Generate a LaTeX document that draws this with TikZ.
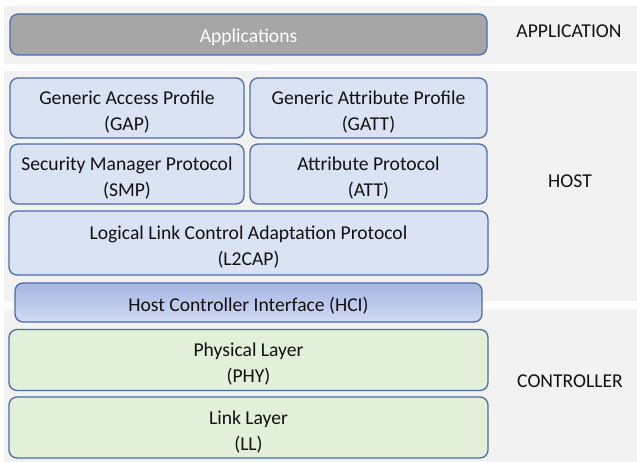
\documentclass[tikz,border=0pt]{standalone}
\usepackage{fontspec}
\setmainfont{Carlito}
\definecolor{panel}{HTML}{F2F2F2}
\definecolor{edge}{HTML}{4A6CAC}
\definecolor{hostfill}{HTML}{DAE3F3}
\definecolor{ctrlfill}{HTML}{E2F0DA}
\definecolor{appfill}{HTML}{A6A6A6}
\definecolor{hcitop}{HTML}{A7B7E2}
\definecolor{hcibot}{HTML}{D2DAF3}
\definecolor{ink}{HTML}{111111}
\tikzset{
  layer/.style={draw=edge, line width=1.3pt, rounded corners=8pt, align=center,
    inner sep=0pt, text=ink, font=\fontsize{19.6}{26}\selectfont,
    execute at begin node={\rule{0pt}{20pt}}},
  pair/.style={execute at begin node={\rule{0pt}{48pt}}},
  hostbox/.style={layer, fill=hostfill},
  ctrlbox/.style={layer, fill=ctrlfill},
  appbox/.style={layer, fill=appfill, text=white},
  hcibox/.style={layer, top color=hcitop, bottom color=hcibot},
  tier/.style={text=ink, font=\fontsize{19.6}{25}\selectfont, inner sep=0pt},
  band/.style={fill=panel, draw=none}
}
\begin{document}
\begin{tikzpicture}[x=1pt, y=-1pt]
  \useasboundingbox (0,0) rectangle (637,462);
  % background bands: application, host, controller
  \fill[band] (4,6) rectangle (493,64);
  \fill[band] (493.4,6) rectangle (637,64);
  \fill[band] (4,71) rectangle (493,301);
  \fill[band] (493.4,71) rectangle (637,301);
  \fill[band] (4,309) rectangle (493,462);
  \fill[band] (493.4,309) rectangle (637,462);

  % protocol stack
  \node[appbox, minimum width=477pt, minimum height=41pt] (apps) at (248.5,34.5) {Applications};
  \node[hostbox, pair, minimum width=234pt, minimum height=60pt] (gap) at (127,108) {Generic Access Profile\\(GAP)};
  \node[hostbox, pair, minimum width=237pt, minimum height=60pt] (gatt) at (368.5,108) {Generic Attribute Profile\\(GATT)};
  \node[hostbox, pair, minimum width=234pt, minimum height=60pt] (smp) at (127,174) {Security Manager Protocol\\(SMP)};
  \node[hostbox, pair, minimum width=237pt, minimum height=60pt] (att) at (368.5,174) {Attribute Protocol\\(ATT)};
  \node[hostbox, pair, minimum width=479pt, minimum height=64pt] (l2cap) at (248.5,243) {Logical Link Control Adaptation Protocol\\(L2CAP)};
  \node[hcibox, minimum width=467pt, minimum height=39pt] (hci) at (248.5,302.5) {Host Controller Interface (HCI)};
  \node[ctrlbox, pair, minimum width=479pt, minimum height=61pt] (phy) at (248.5,360) {Physical Layer\\(PHY)};
  \node[ctrlbox, pair, minimum width=479pt, minimum height=61pt] (ll) at (248.5,427.5) {Link Layer\\(LL)};

  % tier labels
  \node[tier] (tapp) at (569,31) {APPLICATION};
  \node[tier] (thost) at (570,181) {HOST};
  \node[tier] (tctrl) at (570,381) {CONTROLLER};
\end{tikzpicture}
\end{document}
